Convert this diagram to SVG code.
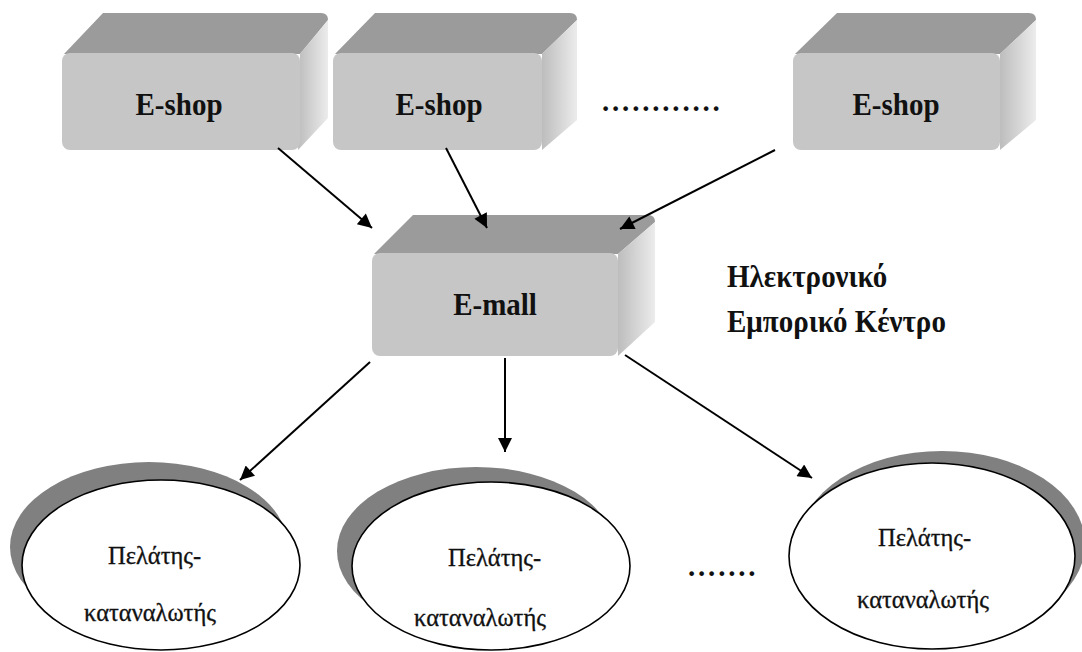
<svg xmlns="http://www.w3.org/2000/svg" width="1082" height="652" viewBox="0 0 1082 652">
<style>
.front{fill:#c6c6c6;}
.top{fill:#9b9b9b;}
.side{fill:url(#sideGrad);}
.lbl{font-family:'Liberation Serif','Times New Roman','DejaVu Serif',serif;font-weight:bold;font-size:29px;fill:#111;}
.ell{font-family:'Liberation Serif','Times New Roman','DejaVu Serif',serif;font-size:24.5px;fill:#111;stroke:#111;stroke-width:0.3;}
.shadow{fill:#808080;}
.oval{fill:#ffffff;stroke:#000;stroke-width:1.6;}
.conn line{stroke:#000;stroke-width:2;marker-end:url(#arr);}
</style>
<defs>
<linearGradient id="sideGrad" x1="0" y1="0" x2="1" y2="0">
<stop offset="0" stop-color="#bdbdbd"/>
<stop offset="1" stop-color="#ececec"/>
</linearGradient>
<marker id="arr" viewBox="0 0 10 10" refX="10" refY="5" markerWidth="8" markerHeight="7" markerUnits="strokeWidth" orient="auto">
<path d="M0,0 L10,5 L0,10 z" fill="#000"/>
</marker>
</defs>
<rect width="1082" height="652" fill="#fff"/>

<g id="eshop1">
<path class="top" d="M64,54 L103,13 L321,13 Q328,13 328,20 L300,54 z"/>
<path class="side" d="M300,54 L328,20 L328,118 L298,150 z"/>
<rect class="front" x="62" y="53" width="238" height="97" rx="8"/>
<g transform="translate(179,115) scale(1,1.1)"><text class="lbl" x="0" y="0" text-anchor="middle">E-shop</text></g>
</g>

<g id="eshop2">
<path class="top" d="M335,54 L375,13 L570,13 Q577,13 577,20 L542,54 z"/>
<path class="side" d="M542,54 L577,20 L577,120 L542,150 z"/>
<rect class="front" x="333" y="53" width="209" height="97" rx="8"/>
<g transform="translate(439,115) scale(1,1.1)"><text class="lbl" x="0" y="0" text-anchor="middle">E-shop</text></g>
</g>

<g id="dots-top">
<text class="lbl" x="602" y="111" letter-spacing="2.8">............</text>
</g>

<g id="eshop3">
<path class="top" d="M795,54 L837,13 L1029,13 Q1036,13 1036,20 L1000,54 z"/>
<path class="side" d="M1000,54 L1036,20 L1036,120 L1000,150 z"/>
<rect class="front" x="793" y="53" width="207" height="97" rx="8"/>
<g transform="translate(896,115) scale(1,1.1)"><text class="lbl" x="0" y="0" text-anchor="middle">E-shop</text></g>
</g>

<g id="emall">
<path class="top" d="M374,254 L413,215 L648,215 Q655,215 655,222 L618,254 z"/>
<path class="side" d="M618,254 L655,222 L655,322 L618,356 z"/>
<rect class="front" x="372" y="253" width="246" height="103" rx="8"/>
<g transform="translate(495,315) scale(1,1.1)"><text class="lbl" x="0" y="0" text-anchor="middle">E-mall</text></g>
</g>

<g id="mall-label">
<g transform="translate(727,287) scale(1,1.1)"><text class="lbl" x="0" y="0">Ηλεκτρονικό</text></g>
<g transform="translate(727,332) scale(1,1.1)"><text class="lbl" x="0" y="0">Εμπορικό Κέντρο</text></g>
</g>

<g id="customer1">
<ellipse class="shadow" cx="149" cy="547" rx="139" ry="85"/>
<ellipse class="oval" cx="161" cy="565" rx="139" ry="85"/>
<text class="ell" x="108" y="564">Πελάτης-</text>
<text class="ell" x="84" y="621">καταναλωτής</text>
</g>

<g id="customer2">
<ellipse class="shadow" cx="476" cy="551" rx="139" ry="84"/>
<ellipse class="oval" cx="491" cy="566" rx="139" ry="84"/>
<text class="ell" x="448" y="566">Πελάτης-</text>
<text class="ell" x="414" y="626">καταναλωτής</text>
</g>

<g id="dots-bottom">
<text class="lbl" x="688" y="576" letter-spacing="2.8">.......</text>
</g>

<g id="customer3">
<ellipse class="shadow" cx="942" cy="544" rx="143" ry="93"/>
<ellipse class="oval" cx="932" cy="556" rx="143" ry="93"/>
<text class="ell" x="878" y="546">Πελάτης-</text>
<text class="ell" x="857" y="608">καταναλωτής</text>
</g>

<g class="conn" id="connectors">
<line x1="278" y1="148" x2="372" y2="228"/>
<line x1="446" y1="148" x2="487" y2="228"/>
<line x1="775" y1="150" x2="620" y2="229"/>
<line x1="370" y1="362" x2="240" y2="480"/>
<line x1="505" y1="358" x2="505" y2="452"/>
<line x1="625" y1="355" x2="812" y2="478"/>
</g>
</svg>
